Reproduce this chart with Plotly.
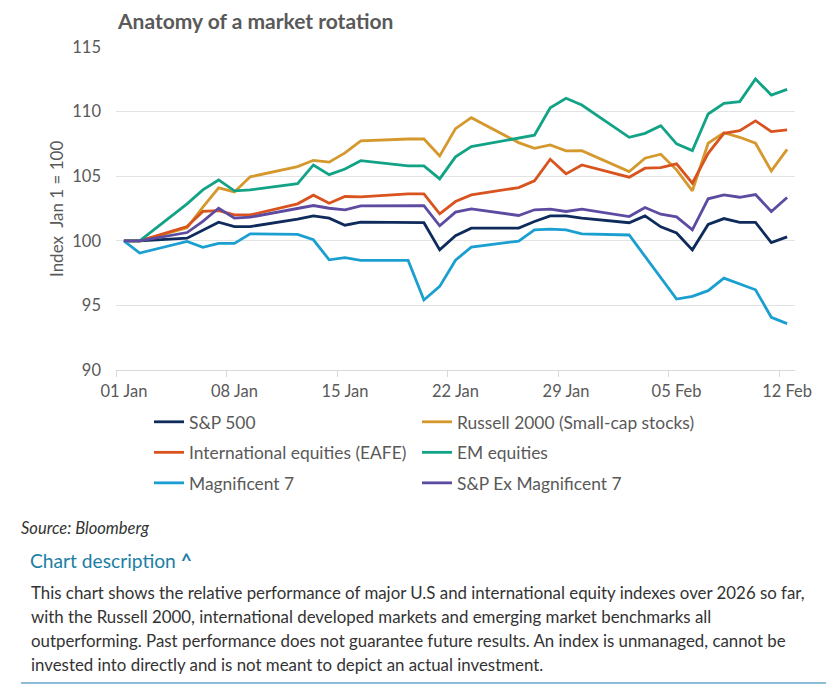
import plotly.graph_objects as go

# ---------------- data ----------------
dates = ["2026-01-01", "2026-01-02", "2026-01-05", "2026-01-06", "2026-01-07", "2026-01-08", "2026-01-09",
         "2026-01-12", "2026-01-13", "2026-01-14", "2026-01-15", "2026-01-16",
         "2026-01-19", "2026-01-20", "2026-01-21", "2026-01-22", "2026-01-23",
         "2026-01-26", "2026-01-27", "2026-01-28", "2026-01-29", "2026-01-30",
         "2026-02-02", "2026-02-03", "2026-02-04", "2026-02-05", "2026-02-06", "2026-02-07",
         "2026-02-08", "2026-02-09", "2026-02-10", "2026-02-11", "2026-02-12"]

sp500 = [100, 100, 100.2, 100.85, 101.44, 101.1, 101.1,
         101.68, 101.93, 101.75, 101.21, 101.44,
         101.42, 101.4, 99.3, 100.39, 100.98,
         100.98, 101.49, 101.93, 101.93, 101.75,
         101.4, 101.93, 101.08, 100.6, 99.3, 101.27, 101.72, 101.42, 101.42, 99.86, 100.3]

russell = [100, 100, 101.0, 102.6, 104.1, 103.78, 104.95,
           105.74, 106.23, 106.09, 106.8, 107.74,
           107.88, 107.88, 106.57, 108.68, 109.53,
           107.6, 107.16, 107.42, 106.96, 106.98,
           105.36, 106.39, 106.7, 105.49, 103.86, 107.55, 108.37, 108.01, 107.55, 105.41, 107.08]

eafe = [100, 100, 101.1, 102.27, 102.34, 102.0, 102.0,
        102.86, 103.53, 102.91, 103.43, 103.4,
        103.63, 103.63, 102.09, 103.04, 103.55,
        104.12, 104.64, 106.31, 105.18, 105.87,
        104.92, 105.62, 105.67, 105.95, 104.46, 106.77, 108.32, 108.53, 109.28, 108.45, 108.58]

em = [100, 100, 102.86, 103.94, 104.71, 103.86, 103.94,
      104.42, 105.87, 105.12, 105.56, 106.2,
      105.8, 105.8, 104.79, 106.5, 107.29,
      107.91, 108.17, 110.3, 111.03, 110.51,
      108.01, 108.32, 108.91, 107.5, 106.98, 109.81, 110.64, 110.77, 112.52, 111.28, 111.72]

mag7 = [100, 99.05, 99.95, 99.5, 99.8, 99.8, 100.54,
        100.5, 100.08, 98.53, 98.69, 98.48,
        98.48, 95.42, 96.47, 98.5, 99.51,
        99.98, 100.85, 100.9, 100.85, 100.54,
        100.45, None, None, 95.49, 95.7, 96.14, 97.11, 96.68, 96.21, 94.08, 93.59]

sp_ex_mag7 = [100, 100, 100.64, 101.5, 102.52, 101.75, 101.83,
              102.47, 102.73, 102.52, 102.4, 102.7,
              102.73, 102.73, 101.16, 102.22, 102.47,
              101.96, 102.4, 102.45, 102.27, 102.45,
              101.88, 102.58, 102.06, 101.85, 100.85, 103.25, 103.55, 103.37, 103.58, 102.27, 103.35]

series_names = ["S&P 500", "Russell 2000 (Small-cap stocks)", "International equities (EAFE)",
                "EM equities", "Magnificent 7", "S&P Ex Magnificent 7"]
series_values = [sp500, russell, eafe, em, mag7, sp_ex_mag7]
series_colors = ["#0f2b5b", "#d4982c", "#d9531e", "#12a386", "#1b9fd1", "#5c4ba1"]
series_legend = ["legend", "legend2", "legend", "legend2", "legend", "legend2"]

tick_dates = ["2026-01-01", "2026-01-08", "2026-01-15", "2026-01-22", "2026-01-29", "2026-02-05", "2026-02-12"]
tick_labels = ["01 Jan", "08 Jan", "15 Jan", "22 Jan", "29 Jan", "05 Feb", "12 Feb"]
tickmark_dates = ["2025-12-31 12:00", "2026-01-07 12:00", "2026-01-14 12:00", "2026-01-21 12:00",
                  "2026-01-28 12:00", "2026-02-04 12:00", "2026-02-11 12:00"]
x_range = ["2025-12-31 12:00", "2026-02-12 12:00"]

title_text = "Anatomy of a market rotation"
y_title = "Index  Jan 1 = 100"
source_text = "Source: Bloomberg"
desc_head = "Chart description <b>^</b>"
desc_lines = [
    "This chart shows the relative performance of major U.S and international equity indexes over 2026 so far,",
    "with the Russell 2000, international developed markets and emerging market benchmarks all",
    "outperforming. Past performance does not guarantee future results. An index is unmanaged, cannot be",
    "invested into directly and is not meant to depict an actual investment.",
]

# ---------------- layout geometry ----------------
W, H = 834, 699
L, R, T, B = 116, 39, 47, 329
PW, PH = W - L - R, H - T - B
FONT = "Lato"
GRAY = "#595959"


def px(xp):
    return (xp - L) / PW


def py(yp):
    return (H - B - yp) / PH


fig = go.Figure()
for i, (name, vals, col, lg) in enumerate(zip(series_names, series_values, series_colors, series_legend)):
    fig.add_trace(go.Scatter(
        x=dates, y=vals, name=name, mode="lines",
        line=dict(color=col, width=2.8), connectgaps=True,
        legend=lg, legendgroup=name,
    ))

legend_common = dict(
    orientation="v", xref="container", yref="container", xanchor="left", yanchor="top",
    font=dict(family=FONT, size=17.4, color=GRAY), bgcolor="rgba(0,0,0,0)",
    tracegroupgap=4.9, itemwidth=30, borderwidth=0,
)

fig.update_layout(
    width=W, height=H,
    margin=dict(l=L, r=R, t=T, b=B, autoexpand=False),
    paper_bgcolor="white", plot_bgcolor="white",
    font=dict(family=FONT, color=GRAY),
    showlegend=True,
    legend=dict(x=149 / W, y=1 - 404 / H, **legend_common),
    legend2=dict(x=417 / W, y=1 - 404 / H, **legend_common),
    xaxis=dict(
        type="date", range=x_range,
        tickmode="array", tickvals=tick_dates, ticktext=tick_labels,
        ticks="", showgrid=False, zeroline=False,
        showline=True, linecolor="#d9d9d9", linewidth=1.3,
        tickfont=dict(family=FONT, size=16.5, color=GRAY),
        ticklabelstandoff=6,
        minor=dict(tickmode="array", tickvals=tickmark_dates, ticks="outside",
                   ticklen=6, tickwidth=1.3, tickcolor="#d9d9d9", showgrid=False),
    ),
    yaxis=dict(
        range=[90, 115], tickmode="linear", tick0=90, dtick=5,
        showgrid=True, gridcolor="#e3e3e3", gridwidth=1.3, zeroline=False,
        showline=False, ticks="",
        tickfont=dict(family=FONT, size=16.5, color=GRAY),
        ticklabelstandoff=14,
    ),
)

annotations = [
    dict(text="<b>" + title_text + "</b>", x=px(115), y=py(21), xanchor="left", yanchor="middle",
         font=dict(family=FONT, size=21, color=GRAY)),
    dict(text=y_title, x=px(56), y=py(209), xanchor="center", yanchor="middle", textangle=-90,
         font=dict(family=FONT, size=17, color=GRAY)),
    dict(text="<i>" + source_text + "</i>", x=px(19), y=py(528), xanchor="left", yanchor="middle",
         font=dict(family=FONT, size=16.5, color="#333333")),
    dict(text=desc_head, x=px(28), y=py(560), xanchor="left", yanchor="middle",
         font=dict(family=FONT, size=19.2, color="#1b7ea3")),
]
line_ys = [592, 616, 640, 664]
for txt, yy in zip(desc_lines, line_ys):
    annotations.append(dict(text=txt, x=px(28.5), y=py(yy), xanchor="left", yanchor="middle",
                            font=dict(family=FONT, size=16.85, color="#333333")))
for a in annotations:
    a.update(xref="paper", yref="paper", showarrow=False)
fig.update_layout(annotations=annotations)

fig.add_shape(type="line", xref="paper", yref="paper", x0=px(21), x1=px(826), y0=py(683), y1=py(683),
              line=dict(color="#8dbdd8", width=2.2))

fig.write_html("out.html", config={"displayModeBar": False},
               post_script="document.body.style.margin='0';document.body.style.padding='0';")
